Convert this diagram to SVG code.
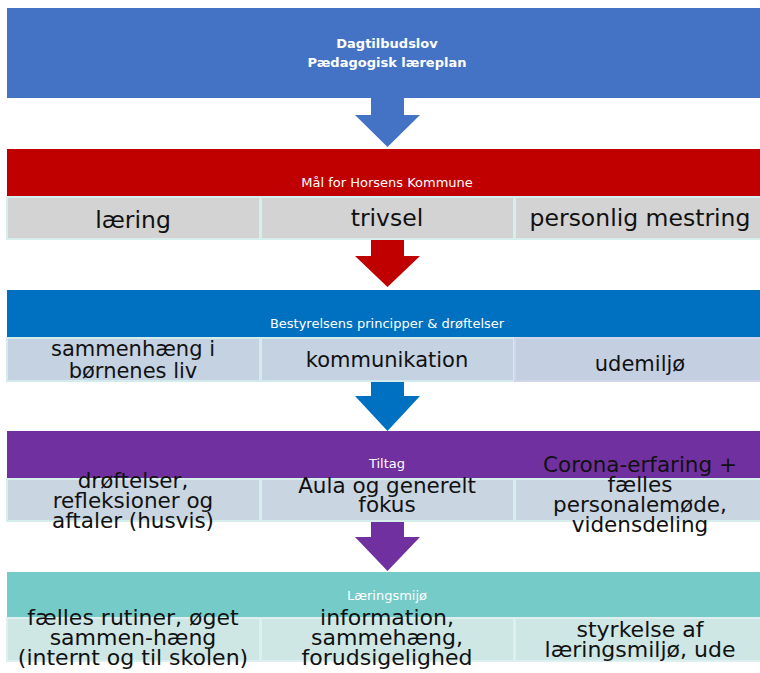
<svg xmlns="http://www.w3.org/2000/svg" width="760" height="673" viewBox="0 0 760 673">
<style>
text{font-family:"DejaVu Sans","Liberation Sans",sans-serif;text-anchor:middle}
.big{fill:#111111}
.hdr{fill:#FFFFFF;font-size:13px}
.r2{font-size:23.5px}
.r3{font-size:21px}
.r4{font-size:21.5px}
.r5{font-size:22px}
.c2{fill:#D3D3D3;stroke:#D6EEEC;stroke-width:2}
.c3{fill:#C4D2E2;stroke:#D3ECEB;stroke-width:2}
.c3b{fill:#C5CFE2;stroke:#D2D6EA;stroke-width:2}
.c4{fill:#C9D5E1;stroke:#D6EEEC;stroke-width:2}
.c5{fill:#CEE7E5;stroke:#DDF0EF;stroke-width:2}
</style>
<rect width="760" height="673" fill="#FFFFFF"/>
<g id="connectors">
<polygon points="371,97 404,97 404,115 420,115 387.5,147 355,115 371,115" fill="#4472C4"/>
<polygon points="371,239 404,239 404,256 420,256 387.5,287 355,256 371,256" fill="#C00000"/>
<polygon points="371,382 404,382 404,396 420,396 387.5,431 355,396 371,396" fill="#0070C0"/>
<polygon points="371,522 404,522 404,537 420,537 387.5,571 355,537 371,537" fill="#7030A0"/>
</g>
<g id="top">
<rect x="7" y="8" width="770" height="90" fill="#4472C4"/>
<text x="387" y="48" class="hdr" font-weight="bold">Dagtilbudslov</text>
<text x="387" y="67" class="hdr" font-weight="bold">Pædagogisk læreplan</text>
</g>
<g id="band-maal">
<rect x="7" y="149" width="770" height="47" fill="#C00000"/>
<text x="387" y="187" class="hdr">Mål for Horsens Kommune</text>
</g>
<g id="cell-laering">
<rect x="7" y="197" width="253" height="42" class="c2"/>
<text x="133" y="228" class="big r2">læring</text>
</g>
<g id="cell-trivsel">
<rect x="261" y="197" width="253" height="42" class="c2"/>
<text x="387" y="226" class="big r2">trivsel</text>
</g>
<g id="cell-mestring">
<rect x="515" y="197" width="260" height="42" class="c2"/>
<text x="640" y="226" class="big r2">personlig mestring</text>
</g>
<g id="band-bestyrelse">
<rect x="7" y="290" width="770" height="47" fill="#0070C0"/>
<text x="387" y="328" class="hdr" font-size="13.3">Bestyrelsens principper &amp; drøftelser</text>
</g>
<g id="cell-sammenhaeng">
<rect x="7" y="338" width="253" height="43" class="c3"/>
<text x="133" y="356" class="big r3">sammenhæng i</text>
<text x="133" y="378" class="big r3">børnenes liv</text>
</g>
<g id="cell-kommunikation">
<rect x="261" y="338" width="253" height="43" class="c3"/>
<text x="387" y="367" class="big r3">kommunikation</text>
</g>
<g id="cell-udemiljo">
<rect x="515" y="338" width="260" height="43" class="c3b"/>
<text x="640" y="371" class="big r3">udemiljø</text>
</g>
<g id="band-tiltag">
<rect x="7" y="431" width="770" height="47" fill="#7030A0"/>
<text x="387" y="468" class="hdr">Tiltag</text>
</g>
<g id="cell-droeftelser">
<rect x="7" y="479" width="253" height="42" class="c4"/>
<text x="133" y="488" class="big r4">drøftelser,</text>
<text x="133" y="508" class="big r4">refleksioner og</text>
<text x="133" y="528" class="big r4">aftaler (husvis)</text>
</g>
<g id="cell-aula">
<rect x="261" y="479" width="253" height="42" class="c4"/>
<text x="387" y="493" class="big r4">Aula og generelt</text>
<text x="387" y="512" class="big r4">fokus</text>
</g>
<g id="cell-corona">
<rect x="515" y="479" width="260" height="42" class="c4"/>
<text x="640" y="472" class="big r4">Corona-erfaring +</text>
<text x="640" y="492" class="big r4">fælles</text>
<text x="640" y="512" class="big r4">personalemøde,</text>
<text x="640" y="532" class="big r4">vidensdeling</text>
</g>
<g id="band-laeringsmiljo">
<rect x="7" y="572" width="770" height="45" fill="#74CBC8"/>
<text x="387" y="600" class="hdr">Læringsmijø</text>
</g>
<g id="cell-rutiner">
<rect x="7" y="618" width="253" height="43" class="c5"/>
<text x="133" y="625" class="big r5">fælles rutiner, øget</text>
<text x="133" y="645" class="big r5">sammen-hæng</text>
<text x="133" y="665" class="big r5">(internt og til skolen)</text>
</g>
<g id="cell-information">
<rect x="261" y="618" width="253" height="43" class="c5"/>
<text x="387" y="625" class="big r5">information,</text>
<text x="387" y="645" class="big r5">sammehæng,</text>
<text x="387" y="665" class="big r5">forudsigelighed</text>
</g>
<g id="cell-styrkelse">
<rect x="515" y="618" width="260" height="43" class="c5"/>
<text x="640" y="637" class="big r5">styrkelse af</text>
<text x="640" y="657" class="big r5">læringsmiljø, ude</text>
</g>
</svg>
